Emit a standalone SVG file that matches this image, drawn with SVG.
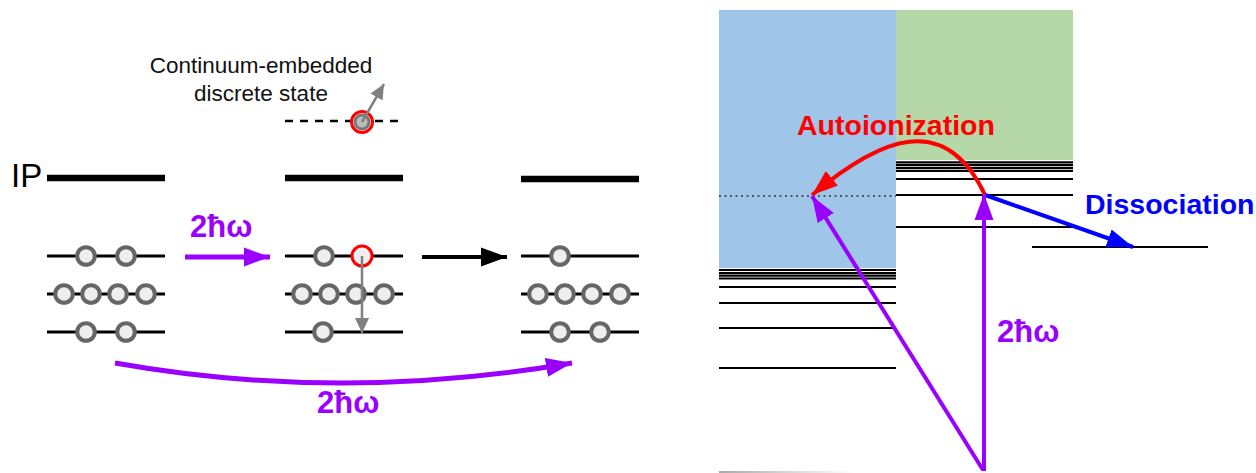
<svg xmlns="http://www.w3.org/2000/svg" width="1256" height="473" viewBox="0 0 1256 473">
<style>
.lvl{stroke:#000;stroke-width:2.8;fill:none}
.ip{stroke:#000;stroke-width:6.5;fill:none}
.e{fill:#eee;stroke:#666;stroke-width:4}
.rl{stroke:#000;stroke-width:2.2;fill:none}
.t{font-family:"Liberation Sans",Arial,sans-serif}
.b{font-weight:bold;font-size:28.5px}
.w{font-weight:bold;font-size:31px}
.pur{fill:#9900ff}
</style>
<defs>
<marker id="mP" markerUnits="userSpaceOnUse" markerWidth="27" markerHeight="20" refX="26" refY="10" orient="auto"><path d="M0,0.5 L26,10 L0,19.5 z" fill="#9900ff"/></marker>
<marker id="mK" markerUnits="userSpaceOnUse" markerWidth="27" markerHeight="20" refX="26" refY="10" orient="auto"><path d="M0,0.5 L26,10 L0,19.5 z" fill="#000"/></marker>
<marker id="mR" markerUnits="userSpaceOnUse" markerWidth="27" markerHeight="20" refX="26" refY="10" orient="auto"><path d="M0,0.5 L26,10 L0,19.5 z" fill="#ff0000"/></marker>
<marker id="mB" markerUnits="userSpaceOnUse" markerWidth="27" markerHeight="20" refX="26" refY="10" orient="auto"><path d="M0,0.5 L26,10 L0,19.5 z" fill="#0000ff"/></marker>
<marker id="mG" markerUnits="userSpaceOnUse" markerWidth="16" markerHeight="16" refX="15" refY="8" orient="auto"><path d="M0,1 L15,8 L0,15 z" fill="#808080"/></marker>
<linearGradient id="fade" x1="0" y1="0" x2="1" y2="0"><stop offset="0" stop-color="#aaa"/><stop offset="1" stop-color="#fff"/></linearGradient>
</defs>

<!-- Left panel -->
<g id="label-ced">
<text class="t" x="261" y="73" font-size="22.5" text-anchor="middle" fill="#111">Continuum-embedded</text>
<text class="t" x="261" y="101" font-size="22.5" text-anchor="middle" fill="#111">discrete state</text>
</g>
<g id="ip-label"><text class="t" x="11" y="187" font-size="33" fill="#000">IP</text></g>

<g id="state1">
<line class="ip" x1="47" y1="178" x2="165" y2="178"/>
<line class="lvl" x1="47" y1="256" x2="165" y2="256"/>
<line class="lvl" x1="47" y1="294" x2="165" y2="294"/>
<line class="lvl" x1="47" y1="332" x2="165" y2="332"/>
<circle class="e" cx="86" cy="256" r="8.8"/><circle class="e" cx="126" cy="256" r="8.8"/>
<circle class="e" cx="64" cy="294" r="8.8"/><circle class="e" cx="91" cy="294" r="8.8"/><circle class="e" cx="118" cy="294" r="8.8"/><circle class="e" cx="146" cy="294" r="8.8"/>
<circle class="e" cx="86" cy="332" r="8.8"/><circle class="e" cx="126" cy="332" r="8.8"/>
</g>

<g id="state2">
<line x1="285" y1="121" x2="403" y2="121" stroke="#000" stroke-width="2.5" stroke-dasharray="8,7"/>
<line class="ip" x1="285" y1="178" x2="403" y2="178"/>
<line class="lvl" x1="285" y1="256" x2="403" y2="256"/>
<line class="lvl" x1="285" y1="294" x2="403" y2="294"/>
<line class="lvl" x1="285" y1="332" x2="403" y2="332"/>
<circle class="e" cx="324" cy="256" r="8.8"/>
<circle cx="362" cy="256" r="10" fill="#eee" stroke="#ff0000" stroke-width="3"/>
<circle class="e" cx="302" cy="294" r="8.8"/><circle class="e" cx="329" cy="294" r="8.8"/><circle class="e" cx="356" cy="294" r="8.8"/><circle class="e" cx="384" cy="294" r="8.8"/>
<circle class="e" cx="323" cy="332" r="8.8"/>
<circle cx="362" cy="122" r="7" fill="#bbb" stroke="#777" stroke-width="3"/>
<circle cx="362" cy="122" r="10.5" fill="none" stroke="#ff0000" stroke-width="3"/>
</g>

<g id="state3">
<line class="ip" x1="521" y1="179" x2="639" y2="179"/>
<line class="lvl" x1="521" y1="256" x2="639" y2="256"/>
<line class="lvl" x1="521" y1="294" x2="639" y2="294"/>
<line class="lvl" x1="521" y1="332" x2="639" y2="332"/>
<circle class="e" cx="560" cy="256" r="8.8"/>
<circle class="e" cx="538" cy="294" r="8.8"/><circle class="e" cx="565" cy="294" r="8.8"/><circle class="e" cx="592" cy="294" r="8.8"/><circle class="e" cx="620" cy="294" r="8.8"/>
<circle class="e" cx="560" cy="332" r="8.8"/><circle class="e" cx="600" cy="332" r="8.8"/>
</g>

<!-- Right panel -->
<g id="continuum-blue"><rect x="719" y="10" width="177" height="258" fill="#9fc5e8"/></g>
<g id="continuum-green"><rect x="896" y="10" width="177" height="150" fill="#b6d7a8"/></g>

<g id="levels-left">
<line class="rl" x1="719" y1="270" x2="896" y2="270"/>
<line class="rl" x1="719" y1="273" x2="896" y2="273"/>
<line class="rl" x1="719" y1="275.7" x2="896" y2="275.7"/>
<line class="rl" x1="719" y1="278.5" x2="896" y2="278.5"/>
<line class="rl" x1="719" y1="287" x2="896" y2="287"/>
<line class="rl" x1="719" y1="303" x2="896" y2="303"/>
<line class="rl" x1="719" y1="328" x2="896" y2="328"/>
<line class="rl" x1="719" y1="368" x2="896" y2="368"/>
<line x1="719" y1="196" x2="896" y2="196" stroke="#333" stroke-width="1.5" stroke-dasharray="2,3.5"/>
<rect x="719" y="471" width="135" height="2" fill="url(#fade)"/>
</g>

<g id="levels-right">
<line class="rl" x1="896" y1="162.3" x2="1073" y2="162.3"/>
<line class="rl" x1="896" y1="165.2" x2="1073" y2="165.2"/>
<line class="rl" x1="896" y1="168" x2="1073" y2="168"/>
<line class="rl" x1="896" y1="170.8" x2="1073" y2="170.8"/>
<line class="rl" x1="896" y1="179" x2="1073" y2="179"/>
<line class="rl" x1="896" y1="195" x2="1073" y2="195"/>
<line class="rl" x1="896" y1="227" x2="1073" y2="227"/>
</g>
<g id="dissociation-level"><line class="rl" x1="1032" y1="247" x2="1208" y2="247"/></g>

<g id="connectors">
<line x1="185" y1="257" x2="270" y2="257" stroke="#9900ff" stroke-width="5" marker-end="url(#mP)"/>
<line x1="422" y1="257" x2="507" y2="257" stroke="#000" stroke-width="4" marker-end="url(#mK)"/>
<path d="M115,363 Q340,403 572,363" fill="none" stroke="#9900ff" stroke-width="5" marker-end="url(#mP)"/>
<line x1="362" y1="122" x2="384" y2="84" stroke="#808080" stroke-width="2.5" marker-end="url(#mG)"/>
<line x1="362" y1="256" x2="362" y2="333" stroke="#808080" stroke-width="2.5" marker-end="url(#mG)"/>
<path d="M985,195 C945,110 880,138 812,195" fill="none" stroke="#ff0000" stroke-width="4" marker-end="url(#mR)"/>
<line x1="985" y1="195" x2="1133" y2="247" stroke="#0000ff" stroke-width="4" marker-end="url(#mB)"/>
<line x1="984" y1="471" x2="984" y2="194" stroke="#9900ff" stroke-width="4" marker-end="url(#mP)"/>
<line x1="983" y1="470" x2="812" y2="196" stroke="#9900ff" stroke-width="4" marker-end="url(#mP)"/>
</g>

<g id="labels">
<text class="t w pur" x="190" y="237">2ħω</text>
<text class="t w pur" x="317" y="413">2ħω</text>
<text class="t w pur" x="997" y="342">2ħω</text>
<text class="t b" x="797" y="135" fill="#ff0000">Autoionization</text>
<text class="t b" x="1085" y="214" fill="#0000ff">Dissociation</text>
</g>
</svg>
